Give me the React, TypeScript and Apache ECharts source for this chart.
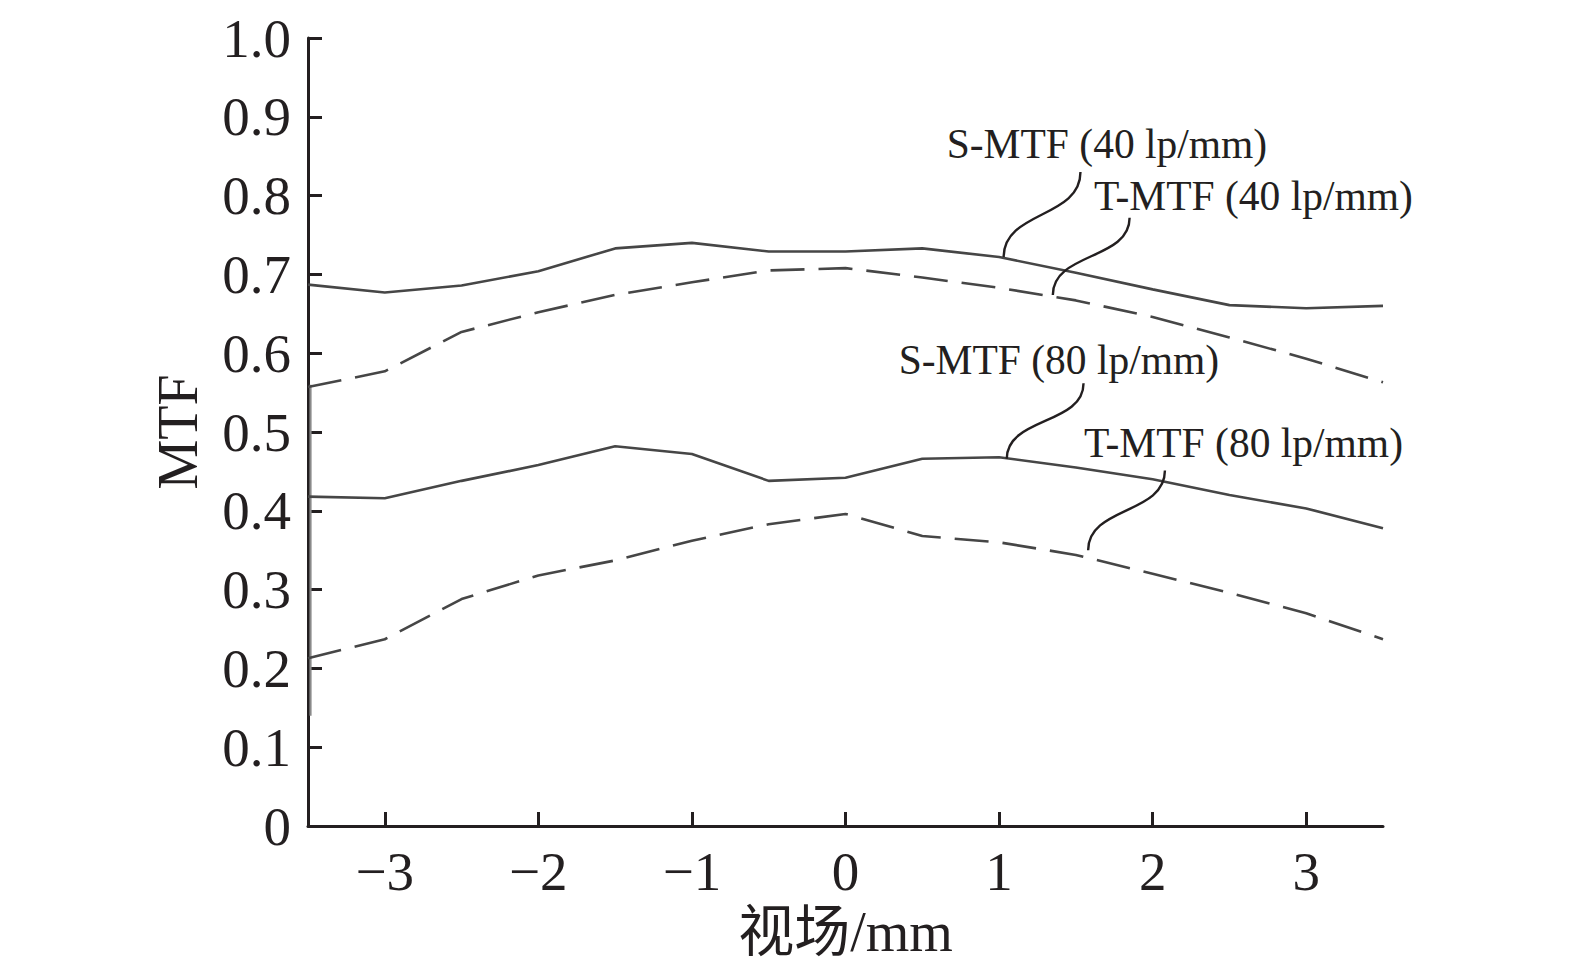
import React, { useEffect, useRef } from "react";
import * as echarts from "echarts";

const xValues = [-3.5, -3, -2.5, -2, -1.5, -1, -0.5, 0, 0.5, 1, 1.5, 2, 2.5, 3, 3.5];
const sMtf40 = [0.687, 0.677, 0.686, 0.704, 0.733, 0.740, 0.729, 0.729, 0.733, 0.722, 0.702, 0.681, 0.661, 0.657, 0.660];
const tMtf40 = [0.557, 0.577, 0.627, 0.652, 0.674, 0.690, 0.705, 0.708, 0.696, 0.683, 0.667, 0.646, 0.620, 0.593, 0.563];
const sMtf80 = [0.418, 0.416, 0.438, 0.458, 0.482, 0.472, 0.438, 0.442, 0.466, 0.468, 0.455, 0.440, 0.420, 0.403, 0.378];
const tMtf80 = [0.213, 0.237, 0.288, 0.318, 0.337, 0.362, 0.383, 0.396, 0.368, 0.360, 0.344, 0.320, 0.296, 0.270, 0.237];

const xTicks = [-3, -2, -1, 0, 1, 2, 3];
const seriesNames = ["S-MTF (40 lp/mm)", "T-MTF (40 lp/mm)", "S-MTF (80 lp/mm)", "T-MTF (80 lp/mm)"];

// annotation anchors in data coordinates: [curve point], [leader top], [label left-middle]
const leaderStart = [[1.03, 0.722], [1.35, 0.674], [1.05, 0.466], [1.58, 0.350]];
const leaderEnd = [[1.53, 0.830], [1.85, 0.772], [1.55, 0.562], [2.08, 0.451]];
const labelPos = [[0.659, 0.866], [1.618, 0.800], [0.346, 0.591], [1.553, 0.486]];
// faint vertical stroke along the left edge of the plot (x, yFrom, yTo)
const edgeStroke = [-3.5, 0.14, 0.56];

const SERIF = "'Liberation Serif', 'Times New Roman', 'Noto Sans CJK SC', serif";
const INK = "#231f20";
const LINE = "#464646";

export default function App() {
  const ref = useRef<HTMLDivElement>(null);
  useEffect(() => {
    if (!ref.current) return;
    const chart = echarts.init(ref.current, null, { renderer: "svg" });
    const mk = (name: string, vals: number[], dashed: boolean) => ({
      name,
      type: "line",
      data: xValues.map((x, i) => [x, vals[i]]),
      symbol: "none",
      lineStyle: { color: LINE, width: 2.6, type: dashed ? [34, 14] : "solid" },
      z: 3,
    });
    chart.setOption({
      animation: false,
      backgroundColor: "#ffffff",
      grid: { left: 308, right: 192, top: 38, bottom: 148, containLabel: false },
      xAxis: {
        type: "value",
        min: -3.5,
        max: 3.5,
        name: "视场/mm",
        nameLocation: "middle",
        nameGap: 76,
        nameTextStyle: { fontFamily: SERIF, fontSize: 56, color: INK },
        axisLine: { show: true, onZero: false, lineStyle: { color: INK, width: 3 } },
        axisTick: { show: true, inside: true, length: 14, customValues: xTicks, lineStyle: { color: INK, width: 3 } },
        axisLabel: {
          customValues: xTicks,
          margin: 18,
          fontFamily: SERIF,
          fontSize: 55,
          color: INK,
          formatter: (v: number) => (v < 0 ? "\u2212" + Math.abs(v) : String(v)),
        },
        splitLine: { show: false },
      },
      yAxis: {
        type: "value",
        min: 0,
        max: 1,
        interval: 0.1,
        name: "MTF",
        nameLocation: "middle",
        nameGap: 102,
        nameTextStyle: { fontFamily: SERIF, fontSize: 56, color: INK },
        axisLine: { show: true, onZero: false, lineStyle: { color: INK, width: 3 } },
        axisTick: { show: true, inside: true, length: 14, lineStyle: { color: INK, width: 3 } },
        axisLabel: {
          margin: 17,
          fontFamily: SERIF,
          fontSize: 55,
          color: INK,
          formatter: (v: number) => (v === 0 ? "0" : v.toFixed(1)),
        },
        splitLine: { show: false },
      },
      series: [
        mk(seriesNames[0], sMtf40, false),
        mk(seriesNames[1], tMtf40, true),
        mk(seriesNames[2], sMtf80, false),
        mk(seriesNames[3], tMtf80, true),
      ],
    });

    const toPx = (p: number[]) => chart.convertToPixel({ gridIndex: 0 }, p) as number[];
    const graphics: any[] = [];
    const e1 = toPx([edgeStroke[0], edgeStroke[1]]);
    const e2 = toPx([edgeStroke[0], edgeStroke[2]]);
    graphics.push({
      type: "line",
      shape: { x1: e1[0] + 2.5, y1: e1[1], x2: e2[0] + 2.5, y2: e2[1] },
      style: { stroke: "#8a8a8a", lineWidth: 2.2 },
      z: 2,
    });
    seriesNames.forEach((name, i) => {
      const a = toPx(leaderStart[i]);
      const b = toPx(leaderEnd[i]);
      const ym = (a[1] + b[1]) / 2;
      graphics.push({
        type: "bezierCurve",
        shape: { x1: a[0], y1: a[1], cpx1: a[0], cpy1: ym - 4, cpx2: b[0], cpy2: ym + 4, x2: b[0], y2: b[1] },
        style: { stroke: INK, lineWidth: 2.4, fill: "none" },
        z: 10,
      });
      const t = toPx(labelPos[i]);
      graphics.push({
        type: "text",
        x: t[0],
        y: t[1],
        style: {
          text: name,
          fontFamily: SERIF,
          fontSize: 41.5,
          fill: INK,
          align: "left",
          verticalAlign: "middle",
        },
        z: 10,
      });
    });
    chart.setOption({ graphic: graphics });
    return () => chart.dispose();
  }, []);
  return (
    <div
      ref={ref}
      style={{ position: "fixed", left: 0, top: 0, width: 1575, height: 974, background: "#fff" }}
    />
  );
}
